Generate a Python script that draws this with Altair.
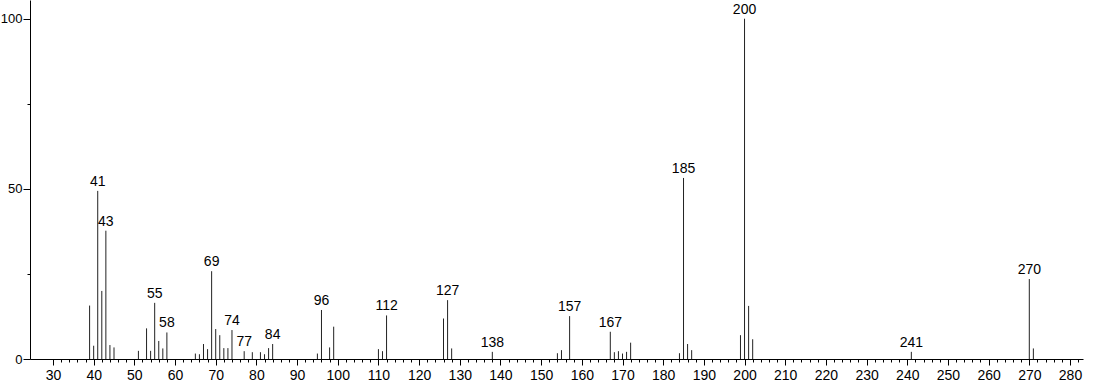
import altair as alt
import pandas as pd

mz = [39, 40, 41, 42, 43, 44, 45, 51, 53, 54, 55, 56, 57, 58,
      65, 66, 67, 68, 69, 70, 71, 72, 73, 74, 77, 79, 81, 82, 83, 84,
      95, 96, 98, 99, 110, 111, 112, 126, 127, 128, 138,
      154, 155, 157, 167, 168, 169, 170, 171, 172,
      184, 185, 186, 187, 199, 200, 201, 202, 241, 270, 271]
intensity = [15.7, 3.9, 49.4, 20.0, 37.7, 4.1, 3.4, 2.4, 9.0, 2.4, 16.5, 5.3, 3.1, 7.8,
             1.6, 1.4, 4.4, 2.9, 25.8, 8.8, 7.0, 3.2, 3.2, 8.5, 2.3, 2.0, 2.0, 1.4, 3.2, 4.4,
             1.6, 14.4, 3.4, 9.5, 2.9, 2.3, 12.8, 11.9, 17.3, 3.1, 2.1,
             1.7, 2.6, 12.6, 8.0, 2.0, 2.3, 1.6, 2.1, 4.8,
             1.7, 53.2, 4.4, 2.6, 7.0, 100.0, 15.6, 5.8, 2.1, 23.5, 3.1]
labeled = [41, 43, 55, 58, 69, 74, 77, 84, 96, 112, 127, 138, 157, 167, 185, 200, 241, 270]

x_ticks = list(range(30, 283, 2))
y_ticks = [0, 25, 50, 75, 100]

df = pd.DataFrame({"mz": mz, "intensity": intensity})
df["label"] = [str(m) if m in labeled else "" for m in mz]

FONT = "Liberation Sans"
FS = 14

x_scale = alt.Scale(domain=[24.35, 283.2], nice=False, zero=False)
y_scale = alt.Scale(domain=[0, 105.5], nice=False)

x_axis = alt.Axis(
    values=x_ticks,
    labelExpr="datum.value % 10 == 0 ? datum.label : ''",
    tickSize={"condition": {"test": "datum.value % 10 == 0", "value": 6}, "value": 3},
    labelOverlap=False, labelFlush=False, grid=False, title=None,
    labelFont=FONT, labelFontSize=FS, labelColor="black", labelPadding=3,
    domainColor="black", tickColor="black",
)
y_axis = alt.Axis(
    values=y_ticks,
    labelExpr="datum.value % 50 == 0 ? datum.label : ''",
    tickSize={"condition": {"test": "datum.value % 50 == 0", "value": 7}, "value": 3},
    labelOverlap=False, labelFlush=False, grid=False, title=None,
    labelFont=FONT, labelFontSize=13, labelColor="black", labelPadding=1,
    domainColor="black", tickColor="black",
)

bars = alt.Chart(df).mark_rule(color="#222222", strokeWidth=1).encode(
    x=alt.X("mz:Q", scale=x_scale, axis=x_axis),
    y=alt.Y("intensity:Q", scale=y_scale, axis=y_axis),
    y2=alt.datum(0),
)

labels = alt.Chart(df).transform_filter("datum.label != ''").mark_text(
    baseline="bottom", dy=-2, font=FONT, fontSize=FS, color="black"
).encode(
    x=alt.X("mz:Q", scale=x_scale, axis=x_axis),
    y=alt.Y("intensity:Q", scale=y_scale, axis=y_axis),
    text="label:N",
)

chart = alt.layer(bars, labels).properties(
    width=1053, height=359,
    autosize=alt.AutoSizeParams(type="none"),
    padding={"left": 30, "top": 0, "right": 11, "bottom": 25},
    background="white",
).configure_view(stroke=None)

chart.save("out.html", embed_options={"renderer": "svg", "actions": False})
